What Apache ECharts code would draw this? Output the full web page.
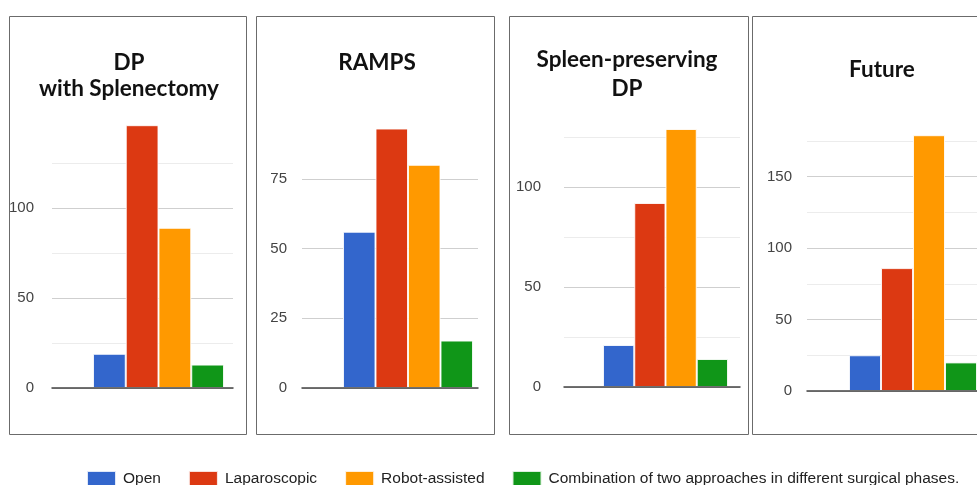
<!DOCTYPE html>
<html>
<head>
<meta charset="utf-8">
<script src="https://cdn.jsdelivr.net/npm/echarts@6/dist/echarts.min.js"></script>
<style>
html,body{margin:0;padding:0;background:#fff;}
#chart{width:977px;height:485px;}
</style>
</head>
<body>
<div id="chart"></div>
<script>
// ---- data ----
const panelTitles = ['DP\nwith Splenectomy', 'RAMPS', 'Spleen-preserving\nDP', 'Future'];
const seriesNames = ['Open', 'Laparoscopic', 'Robot-assisted', 'Combination of two approaches in different surgical phases.'];
const openValues = [19, 56, 21, 25];
const laparoscopicValues = [146, 93, 92, 86];
const robotValues = [89, 80, 129, 179];
const combinationValues = [13, 17, 14, 20];
const axisMax = [150, 100, 150, 200];
const axisInterval = [50, 25, 50, 50];
const minorSplits = [2, 1, 2, 2];

// ---- styles / layout ----
const colors = ['#3366cc', '#dc3912', '#ff9900', '#109618'];
const allValues = [openValues, laparoscopicValues, robotValues, combinationValues];
const layout = [
  {box: [9.5, 16.5, 237, 418], gridL: 52, gridW: 181, barL: 93, barW: 131, zeroY: 388, pxPerUnit: 1.8, labelMargin: 18, titleX: 129, titleTop: 50, lh: 26},
  {box: [256.5, 16.5, 238, 418], gridL: 302, gridW: 176, barL: 343, barW: 130, zeroY: 388, pxPerUnit: 2.79, labelMargin: 15, titleX: 377, titleTop: 50, lh: 26},
  {box: [509.5, 16.5, 239, 418], gridL: 564, gridW: 176, barL: 603, barW: 125, zeroY: 387, pxPerUnit: 2.0, labelMargin: 23, titleX: 627, titleTop: 45, lh: 29},
  {box: [752.5, 16.5, 240, 418], gridL: 807, gridW: 180, barL: 849, barW: 133, zeroY: 391, pxPerUnit: 1.429, labelMargin: 15, titleX: 882, titleTop: 57, lh: 26}
];

const grids = [], xAxes = [], yAxes = [], series = [], titles = [], graphics = [];
layout.forEach((L, i) => {
  const h = axisMax[i] * L.pxPerUnit;
  const top = L.zeroY - h;
  graphics.push({type: 'rect', shape: {x: L.box[0], y: L.box[1], width: L.box[2], height: L.box[3]},
    style: {fill: 'none', stroke: '#6b6b6b', lineWidth: 1}, z: -1});
  titles.push({text: panelTitles[i], left: L.titleX, top: L.titleTop, textAlign: 'center', padding: 0,
    textStyle: {fontFamily: 'Lato', fontWeight: 'bold', fontSize: 22.5, color: '#111', lineHeight: L.lh}});
  grids.push({left: L.gridL, top: top, width: L.gridW, height: h});
});
layout.forEach((L, i) => {
  const h = axisMax[i] * L.pxPerUnit;
  const top = L.zeroY - h;
  grids.push({left: L.barL, top: top, width: L.barW, height: h});
});
// axis grids
layout.forEach((L, i) => {
  xAxes.push({type: 'category', gridIndex: i, data: [''], axisTick: {show: false}, axisLabel: {show: false},
    axisLine: {show: true, lineStyle: {color: '#444', width: 1.5}}, z: 5});
  yAxes.push({type: 'value', gridIndex: i, min: 0, max: axisMax[i], interval: axisInterval[i],
    axisLine: {show: false}, axisTick: {show: false},
    axisLabel: {color: '#444', fontSize: 15, fontFamily: '"Liberation Sans", Arial, sans-serif', margin: L.labelMargin, showMaxLabel: false},
    splitLine: {show: true, showMaxLine: false, lineStyle: {color: '#cfcfcf', width: 1}},
    minorTick: {show: false, splitNumber: minorSplits[i]},
    minorSplitLine: {show: minorSplits[i] > 1, lineStyle: {color: '#ececec', width: 1}}
  });
});
// bar grids
layout.forEach((L, i) => {
  xAxes.push({type: 'category', gridIndex: 4 + i, data: [panelTitles[i]], show: false});
  yAxes.push({type: 'value', gridIndex: 4 + i, min: 0, max: axisMax[i], show: false, splitLine: {show: false}});
  seriesNames.forEach((name, s) => {
    series.push({type: 'bar', name: name, xAxisIndex: 4 + i, yAxisIndex: 4 + i,
      data: [allValues[s][i]], barGap: '0%', barCategoryGap: '0%',
      itemStyle: {color: colors[s], borderColor: 'rgba(255,255,255,0.85)', borderWidth: 1},
      emphasis: {disabled: true}, z: 3});
  });
});

const chart = echarts.init(document.getElementById('chart'), null, {renderer: 'canvas'});
chart.setOption({
  animation: false,
  color: colors,
  title: titles,
  grid: grids,
  xAxis: xAxes,
  yAxis: yAxes,
  series: series,
  graphic: graphics,
  legend: {data: seriesNames, left: 86, top: 470, padding: 0, itemWidth: 29, itemHeight: 15, itemGap: 27, icon: 'rect',
    textStyle: {color: '#222', fontSize: 15.5, fontFamily: '"Liberation Sans", Arial, sans-serif', padding: [0, 0, 0, 2]}}
});
</script>
</body>
</html>
